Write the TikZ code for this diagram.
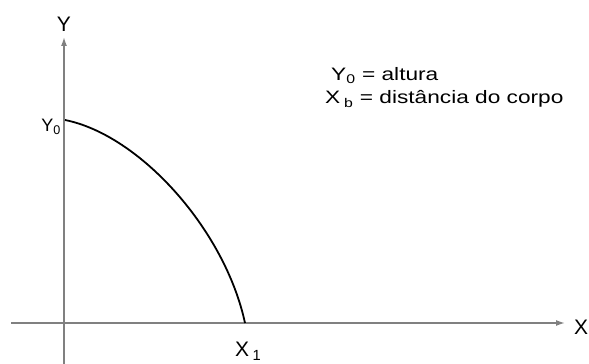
\documentclass[tikz,border=0pt]{standalone}
\usepackage{fontspec}
\setmainfont{Liberation Sans}
\usetikzlibrary{arrows.meta}
\tikzset{
	axis/.style={draw=gray, line width=1.5pt, -{Latex[length=9pt,width=6pt]}},
	trajectory/.style={line width=1.8pt},
	axislabel/.style={font=\fontsize{21}{25}\selectfont, inner sep=0pt},
	legendtext/.style={font=\fontsize{18}{22}\selectfont, inner sep=0pt, anchor=base west},
}
\newcommand{\widetext}[1]{\scalebox{1.26}[1]{#1}}
\begin{document}
\begin{tikzpicture}[x=1pt, y=1pt]
	\useasboundingbox (0,0) rectangle (589,364);
	\begin{scope}
		\coordinate (xstart) at (11,41);
		\coordinate (xend) at (565,41);
		\coordinate (ystart) at (64,0);
		\coordinate (yend) at (64,327);
		\draw[axis] (xstart) -- (xend);
		\draw[axis] (ystart) -- (yend);
		\node[axislabel, anchor=base west] (xname) at (574,29) {X};
		\node[axislabel, anchor=base] (yname) at (64,332) {Y};
	\end{scope}
	\coordinate (ytop) at (65,244);
	\coordinate (xhit) at (245,41);
	\draw[trajectory] (ytop) .. controls (140,229) and (225,134) .. (xhit);
	\node[axislabel, anchor=base east] (ytoplabel) at (61,232) {\fontsize{18}{22}\selectfont Y\textsubscript{0}};
	\node[axislabel, anchor=base west] (xhitlabel) at (235,7) {X\,\textsubscript{1}};
	\node[legendtext] (legheight) at (331,283) {\widetext{Y\textsubscript{0} = altura}};
	\node[legendtext] (legdist) at (325,260) {\widetext{X\,\textsubscript{b} = distância do corpo}};
\end{tikzpicture}
\end{document}
